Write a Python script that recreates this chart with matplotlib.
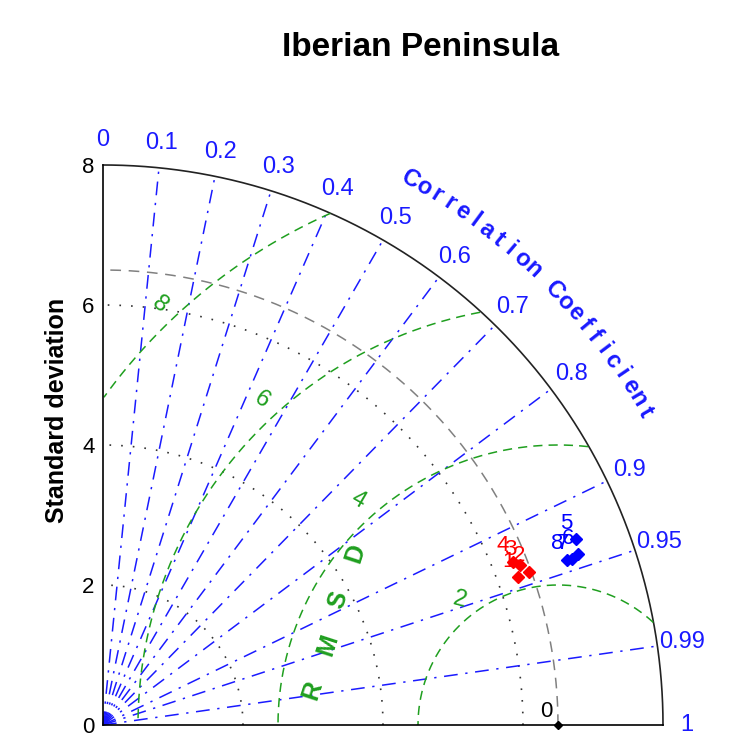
import numpy as np
import matplotlib
matplotlib.use('Agg')
import matplotlib.pyplot as plt

plt.rcParams['font.family'] = ['Liberation Sans', 'DejaVu Sans']

# observed reference and model statistics
ref_std = 6.5
red_labels = ['1', '2', '3', '4']
red_std = [6.30, 6.47, 6.38, 6.30]
red_corr = [0.942, 0.941, 0.934, 0.929]
blue_labels = ['5', '6', '7', '8']
blue_std = [7.26, 7.21, 7.11, 7.04]
blue_corr = [0.931, 0.941, 0.943, 0.942]

corr_ticks = [0, 0.1, 0.2, 0.3, 0.4, 0.5, 0.6, 0.7, 0.8, 0.9, 0.95, 0.99, 1]
std_ticks = [0, 2, 4, 6, 8]
rms_levels = [2, 4, 6, 8]
std_max = 8

BLUE = '#1a1aff'
GREEN = '#1f9f1f'

fig = plt.figure(figsize=(7.37, 7.46), dpi=100)
ax = fig.add_axes([103 / 737, 21 / 746, 560 / 737, 560 / 746])
ax.set_xlim(0, std_max)
ax.set_ylim(0, std_max)
for s in ['top', 'right']:
    ax.spines[s].set_visible(False)
for s in ['left', 'bottom']:
    ax.spines[s].set_color('black')
    ax.spines[s].set_linewidth(1.2)
ax.set_xticks([])
ax.set_yticks(std_ticks)
ax.set_yticklabels([str(t) for t in std_ticks], fontsize=16)
ax.tick_params(axis='y', length=0, pad=6)

th = np.linspace(0, np.pi / 2, 400)

# outer bound
ax.plot(std_max * np.cos(th), std_max * np.sin(th), color='#222222', lw=1.2, clip_on=False)

# std dev dotted arcs
for r in std_ticks[1:-1]:
    ax.plot(r * np.cos(th), r * np.sin(th), color='#333333', lw=1.2,
            dashes=(1, 6), clip_on=False)

# reference std arc
ax.plot(ref_std * np.cos(th), ref_std * np.sin(th), color='#808080', lw=1.1,
        dashes=(7, 5), clip_on=False)

# correlation rays
for c in corr_ticks[1:-1]:
    a = np.arccos(c)
    ax.plot([0, std_max * np.cos(a)], [0, std_max * np.sin(a)], color=BLUE, lw=1.1,
            dashes=(9, 5, 1.5, 5), clip_on=False)

# correlation labels
for c in corr_ticks:
    a = np.arccos(c)
    r_lab = 8.36 if c < 1 else 8.34
    ax.text(r_lab * np.cos(a), r_lab * np.sin(a), f'{c:g}', color=BLUE, fontsize=17,
            ha='center', va='center', clip_on=False)

# curved axis title
title_txt = 'Correlation Coefficient'
angs = np.linspace(60.6, 30.0, len(title_txt))
for ch, ang in zip(title_txt, angs):
    a = np.radians(ang)
    ax.text(8.95 * np.cos(a), 8.95 * np.sin(a), ch, color=BLUE, fontsize=17,
            fontweight='bold', rotation=ang - 90, ha='center', va='center',
            rotation_mode='anchor', clip_on=False)

# centred RMS difference arcs
tt = np.linspace(0, np.pi, 800)
for r in rms_levels:
    x = ref_std + r * np.cos(tt)
    y = r * np.sin(tt)
    keep = (x ** 2 + y ** 2 <= std_max ** 2) & (x >= 0)
    ax.plot(np.where(keep, x, np.nan), np.where(keep, y, np.nan), color=GREEN,
            lw=1.1, dashes=(6, 4), clip_on=False)

rms_lbl_pos = {2: (5.10, 1.79, -15), 4: (3.64, 3.21, -30), 6: (2.27, 4.64, -35), 8: (0.81, 6.0, -40)}
for r in rms_levels:
    x, y, rot = rms_lbl_pos[r]
    ax.text(x, y, str(r), color=GREEN, fontsize=17, rotation=rot, ha='center', va='center')

for ch, (x, y) in zip('RMSD', [(2.99, 0.50), (3.21, 1.14), (3.36, 1.79), (3.60, 2.46)]):
    ax.text(x, y, ch, color=GREEN, fontsize=18, fontweight='bold', rotation=72,
            ha='center', va='center')

# reference point
ax.plot(ref_std, 0, 'D', color='black', ms=4, clip_on=False, zorder=5)
ax.text(6.34, 0.19, '0', color='black', fontsize=16, ha='center', va='center')

# models
for labels, sd, cc, col in [(red_labels, red_std, red_corr, 'red'),
                            (blue_labels, blue_std, blue_corr, 'blue')]:
    sd = np.array(sd)
    a = np.arccos(np.array(cc))
    xs, ys = sd * np.cos(a), sd * np.sin(a)
    ax.plot(xs, ys, 'D', color=col, ms=6, ls='none', zorder=6)
    for lab, x, y in zip(labels, xs, ys):
        ax.annotate(lab, (x, y), xytext=(-7, 11.5), textcoords='offset points',
                    color=col, fontsize=16, ha='center', va='center', zorder=7)

fig.text(421 / 737, 1 - 48 / 746, 'Iberian Peninsula', ha='center', va='center',
         fontsize=24, fontweight='bold')
fig.text(57 / 737, 1 - 410 / 746, 'Standard deviation', ha='center', va='center',
         rotation=90, fontsize=18, fontweight='bold')

fig.savefig('out.png', dpi=100)
